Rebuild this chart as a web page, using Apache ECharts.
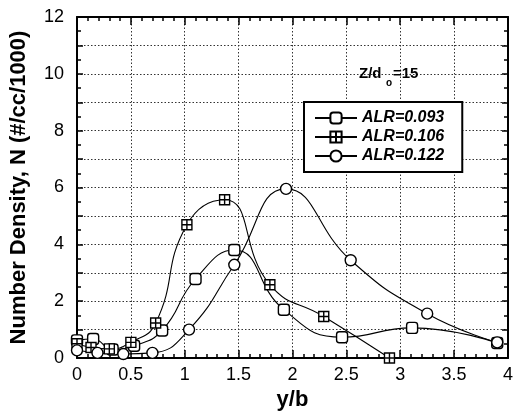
<!DOCTYPE html>
<html>
<head>
<meta charset="utf-8">
<script src="https://cdn.jsdelivr.net/npm/echarts@6/dist/echarts.min.js"></script>
<style>
html,body{margin:0;padding:0;background:#fff;}
#chart{width:516px;height:418px;}
</style>
</head>
<body>
<div id="chart"></div>
<script>
// Data
var seriesNames = ['ALR=0.093', 'ALR=0.106', 'ALR=0.122'];
var x093 = [0, 0.15, 0.33, 0.53, 0.79, 1.10, 1.46, 1.92, 2.46, 3.11, 3.90];
var y093 = [0.62, 0.67, 0.30, 0.43, 0.97, 2.78, 3.80, 1.70, 0.73, 1.06, 0.53];
var x106 = [0, 0.13, 0.30, 0.50, 0.73, 1.02, 1.37, 1.79, 2.29, 2.90];
var y106 = [0.50, 0.37, 0.32, 0.55, 1.23, 4.69, 5.57, 2.58, 1.46, 0.0];
var x122 = [0, 0.19, 0.43, 0.70, 1.04, 1.46, 1.94, 2.54, 3.25, 3.90];
var y122 = [0.27, 0.18, 0.14, 0.18, 1.00, 3.28, 5.95, 3.44, 1.56, 0.55];
var xTitle = 'y/b';
var yTitle = 'Number Density, N (#/cc/1000)';

function pairs(xs, ys) { return xs.map(function (x, i) { return [x, ys[i]]; }); }

var FONT = 'Liberation Sans, Arial, Helvetica, sans-serif';
var crossSquare = 'path://M0,0H10V10H0Z M5,0V10 M0,5H10';
var grid = { type: [1.5, 2], color: '#333', width: 1 };

var chart = echarts.init(document.getElementById('chart'), null, { renderer: 'canvas' });

function lineSeries(name, data, symbol, size) {
  return {
    name: name, type: 'line', data: data, smooth: 0.5,
    symbol: symbol, symbolSize: size, showAllSymbol: true,
    lineStyle: { color: '#000', width: 1.1 },
    itemStyle: { color: '#fff', borderColor: '#000', borderWidth: 1.4 },
    emphasis: { disabled: true }, animation: false, z: 3
  };
}

chart.setOption({
  animation: false,
  backgroundColor: '#fff',
  textStyle: { fontFamily: FONT },
  grid: { left: 76, right: 6, top: 17, bottom: 60 },
  xAxis: [{
    type: 'value', min: 0, max: 4, interval: 0.5, position: 'bottom',
    name: xTitle, nameLocation: 'middle', nameGap: 31,
    nameTextStyle: { fontSize: 22, fontWeight: 'bold', color: '#000', fontFamily: FONT },
    axisLine: { show: true, onZero: false, lineStyle: { color: '#000', width: 2 } },
    axisTick: { show: true, inside: true, length: 8, lineStyle: { color: '#000', width: 1.5 } },
    minorTick: { show: true, splitNumber: 5, length: 4, lineStyle: { color: '#000', width: 1.5 } },
    axisLabel: { fontSize: 18, color: '#000', margin: 8, fontFamily: FONT },
    splitLine: { show: true, lineStyle: grid }
  }, {
    type: 'value', min: 0, max: 4, interval: 0.5, position: 'top',
    axisLine: { show: true, onZero: false, lineStyle: { color: '#000', width: 2 } },
    axisTick: { show: true, inside: true, length: 8, lineStyle: { color: '#000', width: 1.5 } },
    minorTick: { show: true, splitNumber: 5, length: 4, lineStyle: { color: '#000', width: 1.5 } },
    axisLabel: { show: false }, splitLine: { show: false }
  }],
  yAxis: [{
    type: 'value', min: 0, max: 12, interval: 1, position: 'left',
    name: yTitle, nameLocation: 'middle', nameGap: 47,
    nameTextStyle: { fontSize: 22, fontWeight: 'bold', color: '#000', fontFamily: FONT },
    axisLine: { show: true, onZero: false, lineStyle: { color: '#000', width: 2 } },
    axisTick: { show: true, inside: true, length: 6, lineStyle: { color: '#000', width: 1.5 } },
    minorTick: { show: true, splitNumber: 2, length: 4, lineStyle: { color: '#000', width: 1.5 } },
    axisLabel: { fontSize: 18, color: '#000', margin: 13, fontFamily: FONT,
      formatter: function (v) { return v % 2 === 0 ? String(v) : ''; } },
    splitLine: { show: true, lineStyle: grid }
  }, {
    type: 'value', min: 0, max: 12, interval: 1, position: 'right',
    axisLine: { show: true, onZero: false, lineStyle: { color: '#000', width: 2 } },
    axisTick: { show: true, inside: true, length: 6, lineStyle: { color: '#000', width: 1.5 } },
    minorTick: { show: true, splitNumber: 2, length: 4, lineStyle: { color: '#000', width: 1.5 } },
    axisLabel: { show: false }, splitLine: { show: false }
  }],
  legend: {
    left: 304, top: 102, orient: 'vertical',
    data: seriesNames,
    itemWidth: 42, itemHeight: 14, itemGap: 3,
    padding: [8, 18, 8, 10],
    backgroundColor: '#fff', borderColor: '#000', borderWidth: 2,
    textStyle: { fontSize: 16, fontWeight: 'bold', fontStyle: 'italic', color: '#000', fontFamily: FONT },
    selectedMode: false
  },
  graphic: [
    { type: 'text', left: 359, top: 66, style: { text: 'Z/d', font: 'bold 15px ' + FONT, fill: '#000' }, z: 10 },
    { type: 'text', left: 386, top: 78, style: { text: 'o', font: 'bold 10px ' + FONT, fill: '#000' }, z: 10 },
    { type: 'text', left: 393, top: 66, style: { text: '=15', font: 'bold 15px ' + FONT, fill: '#000' }, z: 10 }
  ],
  series: [
    lineSeries(seriesNames[0], pairs(x093, y093), 'roundRect', 11),
    lineSeries(seriesNames[1], pairs(x106, y106), crossSquare, 10),
    lineSeries(seriesNames[2], pairs(x122, y122), 'circle', 11)
  ]
});
</script>
</body>
</html>
